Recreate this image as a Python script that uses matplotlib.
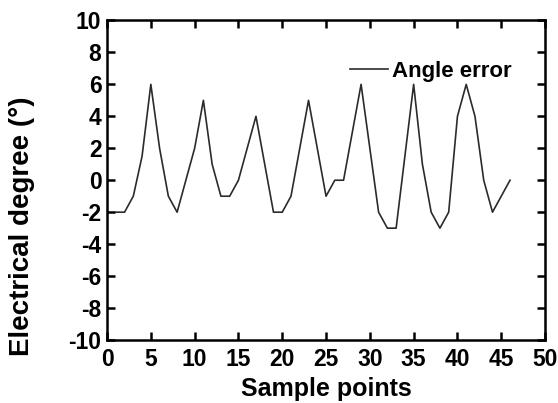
import numpy as np
import matplotlib.pyplot as plt

# sample index and angle error values
samples = list(range(1, 47))
angle_err = [-2, -2, -1, 1.5, 6, 2, -1, -2, 0, 2,
             5, 1, -1, -1, 0, 2, 4, 1, -2, -2,
             -1, 2, 5, 2, -1, 0, 0, 3, 6, 2,
             -2, -3, -3, 1.5, 6, 1, -2, -3, -2, 4,
             6, 4, 0, -2, -1, 0]

x_ticks = list(range(0, 51, 5))
y_ticks = list(range(-10, 11, 2))

plt.rcParams['font.family'] = ['Liberation Sans', 'DejaVu Sans']
plt.rcParams['font.weight'] = 'bold'
plt.rcParams['axes.unicode_minus'] = False

fig = plt.figure(figsize=(5.58, 4.03), dpi=100)
ax = fig.add_axes([0.1918, 0.1563, 0.785, 0.793])

ax.plot(samples, angle_err, color='#2b2b2b', lw=1.2, label='Angle error')

ax.set_xlim(0, 50)
ax.set_ylim(-10, 10)
ax.set_xticks(x_ticks)
ax.set_yticks(y_ticks)
ax.tick_params(direction='in', length=6, width=1.8, labelsize=16.5,
               top=True, right=True)
ax.tick_params(axis='x', pad=6)
ax.tick_params(axis='y', pad=4)
for lbl in ax.get_xticklabels() + ax.get_yticklabels():
    lbl.set_fontweight('bold')
for s in ax.spines.values():
    s.set_linewidth(1.8)

ax.set_xlabel('Sample points', fontsize=18, fontweight='bold', labelpad=4)
ax.set_ylabel('Electrical degree (°)', fontsize=20, fontweight='bold')
ax.yaxis.set_label_coords(-0.165, 0.355)

leg = ax.legend(loc='center left', bbox_to_anchor=(0.555, 0.84), frameon=False,
                borderpad=0, borderaxespad=0,
                handlelength=1.7, handletextpad=0.2,
                prop={'size': 16, 'weight': 'bold'})

fig.savefig('out.png', dpi=100)
